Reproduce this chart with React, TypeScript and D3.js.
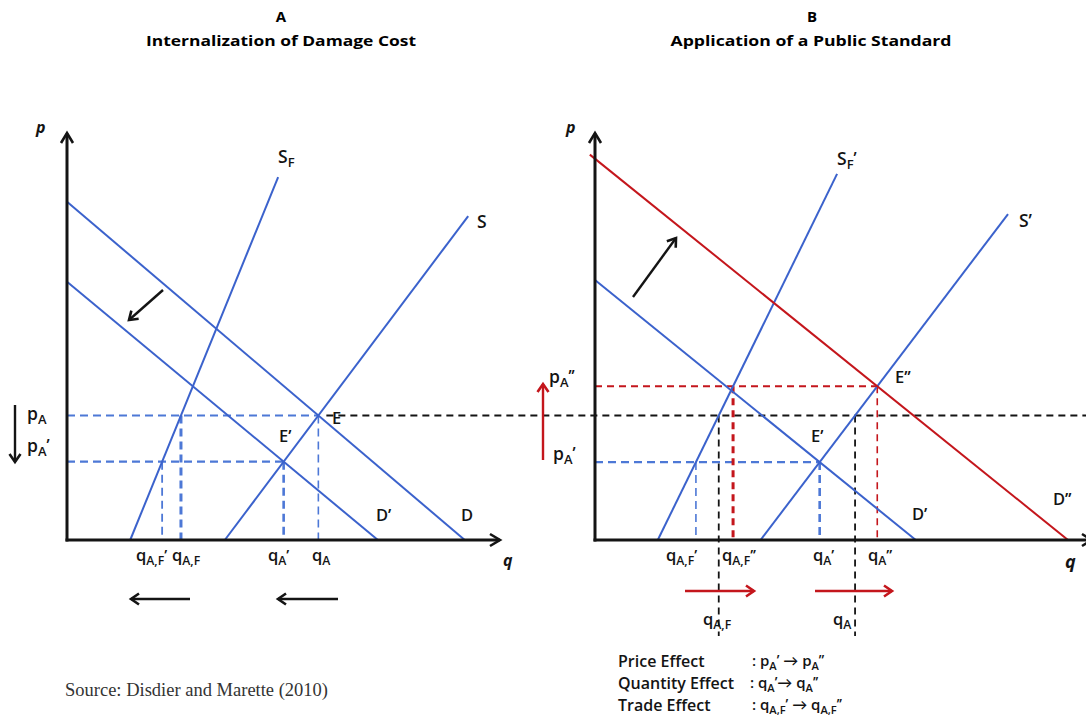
import React from "react";
import * as d3 from "d3";

// ---------- data (arbitrary quantity / price units, 0..100) ----------
type Seg = [number, number][];
// Panel A
const demandD: Seg = [[0, 82.5], [92.5, 0]];
const demandDPrime: Seg = [[0, 63], [72.3, 0]];
const supplyS: Seg = [[36.7, 0], [93.3, 79]];
const supplySF: Seg = [[14.7, 0], [49.1, 88.5]];
// Panel B
const demandDPrimeB: Seg = [[0, 63.4], [74.6, 0]];
const demandDDouble: Seg = [[-1.2, 94], [110, 0]];
const supplySPrime: Seg = [[38.5, 0], [96.05, 79.5]];
const supplySFPrime: Seg = [[14.6, 0], [56.3, 89.3]];

const titles = ["A", "Internalization of Damage Cost", "B", "Application of a Public Standard"];
const effectNames = ["Price Effect", "Quantity Effect", "Trade Effect"];
const sourceText = "Source: Disdier and Marette (2010)";

// ---------- helpers ----------
const slope = (s: Seg) => (s[1][1] - s[0][1]) / (s[1][0] - s[0][0]);
const qAt = (s: Seg, p: number) => s[0][0] + (p - s[0][1]) / slope(s);
const cross = (a: Seg, b: Seg): [number, number] => {
  const ma = slope(a), mb = slope(b);
  const ba = a[0][1] - ma * a[0][0], bb = b[0][1] - mb * b[0][0];
  const q = (bb - ba) / (ma - mb);
  return [q, ma * q + ba];
};

const xL = d3.scaleLinear().domain([0, 100]).range([67, 497]);
const xR = d3.scaleLinear().domain([0, 100]).range([595, 1025]);
const yS = d3.scaleLinear().domain([0, 100]).range([540, 130]);

const BLUE = "#3b62cc";
const BLUE_D = "#4d78d6";
const RED = "#c4161c";
const INK = "#141414";
const FONT = "'Open Sans', Lato, sans-serif";

const lineGen = (x: d3.ScaleLinear<number, number>) =>
  d3.line<[number, number]>().x((d) => x(d[0])).y((d) => yS(d[1]));

type Part = [string, "n" | "b" | "p"];
function Rich({ x, y, parts, size = 16, weight = 600, italic = false }: { x: number; y: number; parts: Part[]; size?: number; weight?: number; italic?: boolean }) {
  let cur = 0;
  const off = { n: 0, b: size * 0.24, p: -size * 0.06 };
  const fs = { n: size, b: size * 0.74, p: size * 0.92 };
  return (
    <text x={x} y={y} fontSize={size} fontFamily={FONT} fontWeight={weight} fill={INK} fontStyle={italic ? "italic" : "normal"}>
      {parts.map(([t, k], i) => {
        const dy = off[k] - cur;
        cur = off[k];
        return (
          <tspan key={i} dy={dy} fontSize={fs[k]}>
            {t}
          </tspan>
        );
      })}
    </text>
  );
}
const L = (m: string, sub?: string, sup?: string): Part[] => {
  const a: Part[] = [[m, "n"]];
  if (sub) a.push([sub, "b"]);
  if (sup) a.push([sup, "p"]);
  return a;
};

function AxisPanel({ x0, xEnd }: { x0: number; xEnd: number }) {
  const yb = yS(0), yt = 133;
  return (
    <g stroke={INK} strokeWidth={3} fill="none" strokeLinecap="square">
      <line x1={x0} y1={yb} x2={x0} y2={yt + 2} />
      <line x1={x0} y1={yb} x2={xEnd - 2} y2={yb} />
      <path d={`M${x0 - 6},${yt + 10} L${x0},${yt} L${x0 + 6},${yt + 10}`} strokeWidth={2.6} strokeLinecap="butt" />
      <path d={`M${xEnd - 10},${yb - 6} L${xEnd},${yb} L${xEnd - 10},${yb + 6}`} strokeWidth={2.6} strokeLinecap="butt" />
    </g>
  );
}

export default function App() {
  const lgL = lineGen(xL);
  const lgR = lineGen(xR);

  // Panel A equilibria
  const E = cross(demandD, supplyS);
  const E1 = cross(demandDPrime, supplyS);
  const qAF = qAt(supplySF, E[1]);
  const qAF1 = qAt(supplySF, E1[1]);

  // Panel B equilibria
  const pA = E[1];
  const qAB = qAt(supplySPrime, pA);
  const qAFB = qAt(supplySFPrime, pA);
  const EB1 = cross(demandDPrimeB, supplySPrime);
  const EB2 = cross(demandDDouble, supplySPrime);
  const qAF1B = qAt(supplySFPrime, EB1[1]);
  const qAF2B = qAt(supplySFPrime, EB2[1]);

  const dashB = { stroke: BLUE_D, strokeWidth: 2.2, strokeDasharray: "8 5", fill: "none" } as const;
  const dashK = { stroke: INK, strokeWidth: 1.8, strokeDasharray: "7 5", fill: "none" } as const;
  const dashR = { stroke: RED, strokeWidth: 1.8, strokeDasharray: "7 5", fill: "none" } as const;

  return (
    <svg width={1086} height={723} style={{ position: "absolute", left: 0, top: 0, background: "#fff" }}>
      <defs>
        <marker id="hk" markerUnits="userSpaceOnUse" markerWidth={16} markerHeight={16} refX={10} refY={7} orient="auto">
          <path d="M2,1.5 L10,7 L2,12.5" fill="none" stroke={INK} strokeWidth={2.6} />
        </marker>
        <marker id="hr" markerUnits="userSpaceOnUse" markerWidth={16} markerHeight={16} refX={10} refY={7} orient="auto">
          <path d="M2,1.5 L10,7 L2,12.5" fill="none" stroke={RED} strokeWidth={2.6} />
        </marker>
      </defs>

      {/* titles */}
      <g fontFamily="'Open Sans', sans-serif" fontWeight={700} fontSize={15} fill="#000" textAnchor="middle">
        <text x={281} y={22}>{titles[0]}</text>
        <text x={281} y={46} textLength={270} lengthAdjust="spacingAndGlyphs">{titles[1]}</text>
        <text x={812} y={22}>{titles[2]}</text>
        <text x={811} y={46} textLength={281} lengthAdjust="spacingAndGlyphs">{titles[3]}</text>
      </g>

      {/* ---------------- Panel A ---------------- */}
      <line x1={xL(0)} x2={xL(E[0])} y1={yS(E[1])} y2={yS(E[1])} {...dashB} />
      <line x1={xL(0)} x2={xL(E1[0])} y1={yS(E1[1])} y2={yS(E1[1])} {...dashB} />
      <line x1={xL(E[0])} x2={xL(E[0])} y1={yS(E[1])} y2={yS(0)} {...dashB} strokeWidth={1.6} />
      <line x1={xL(E1[0])} x2={xL(E1[0])} y1={yS(E1[1])} y2={yS(0)} {...dashB} strokeWidth={2.6} />
      <line x1={xL(qAF)} x2={xL(qAF)} y1={yS(E[1])} y2={yS(0)} {...dashB} strokeWidth={3} />
      <line x1={xL(qAF1)} x2={xL(qAF1)} y1={yS(E1[1])} y2={yS(0)} {...dashB} strokeWidth={1.8} />
      <line x1={xL(E[0]) + 8} x2={1086} y1={yS(pA)} y2={yS(pA)} {...dashK} />

      <g stroke={BLUE} strokeWidth={2} fill="none">
        <path d={lgL(demandD) || ""} />
        <path d={lgL(demandDPrime) || ""} />
        <path d={lgL(supplyS) || ""} />
        <path d={lgL(supplySF) || ""} />
      </g>
      <AxisPanel x0={xL(0)} xEnd={500} />

      <g stroke={INK} strokeWidth={2.4} fill="none">
        <line x1={163} y1={290} x2={129} y2={320} markerEnd="url(#hk)" />
        <line x1={190} y1={599} x2={131} y2={599} markerEnd="url(#hk)" />
        <line x1={338} y1={599} x2={278} y2={599} markerEnd="url(#hk)" />
        <line x1={15} y1={405} x2={15} y2={462} markerEnd="url(#hk)" />
      </g>

      <Rich x={36} y={133} parts={L("p")} size={16} weight={700} italic />
      <Rich x={503} y={566} parts={L("q")} size={16} weight={700} italic />
      <Rich x={278} y={163} parts={L("S", "F")} size={17.5} />
      <Rich x={477} y={228} parts={L("S")} size={17.5} />
      <Rich x={376} y={521} parts={L("D’")} size={16.5} />
      <Rich x={461} y={521} parts={L("D")} size={16.5} />
      <Rich x={332} y={424} parts={L("E")} size={16.5} />
      <Rich x={279} y={442} parts={L("E’")} size={16.5} />
      <Rich x={27} y={420} parts={L("p", "A")} size={17.5} />
      <Rich x={27} y={452} parts={L("p", "A", "’")} size={17.5} />
      <Rich x={136} y={561} parts={L("q", "A,F", "’")} size={16.5} />
      <Rich x={172} y={561} parts={L("q", "A,F")} size={16.5} />
      <Rich x={268} y={561} parts={L("q", "A", "’")} size={16.5} />
      <Rich x={312} y={561} parts={L("q", "A")} size={16.5} />

      {/* ---------------- Panel B ---------------- */}
      <line x1={xR(0)} x2={xR(EB1[0])} y1={yS(EB1[1])} y2={yS(EB1[1])} {...dashB} />
      <line x1={xR(0)} x2={xR(EB2[0])} y1={yS(EB2[1])} y2={yS(EB2[1])} {...dashR} />
      <line x1={xR(EB1[0])} x2={xR(EB1[0])} y1={yS(EB1[1])} y2={yS(0)} {...dashB} strokeWidth={2.6} />
      <line x1={xR(qAF1B)} x2={xR(qAF1B)} y1={yS(EB1[1])} y2={yS(0)} {...dashB} strokeWidth={1.6} />
      <line x1={xR(EB2[0])} x2={xR(EB2[0])} y1={yS(EB2[1])} y2={yS(0)} {...dashR} strokeWidth={1.6} />
      <line x1={xR(qAF2B)} x2={xR(qAF2B)} y1={yS(EB2[1])} y2={yS(0)} {...dashR} strokeWidth={3} />
      <line x1={xR(qAB)} x2={xR(qAB)} y1={yS(pA)} y2={636} {...dashK} />
      <line x1={xR(qAFB)} x2={xR(qAFB)} y1={yS(pA)} y2={636} {...dashK} />

      <g stroke={BLUE} strokeWidth={2} fill="none">
        <path d={lgR(demandDPrimeB) || ""} />
        <path d={lgR(supplySPrime) || ""} />
        <path d={lgR(supplySFPrime) || ""} />
      </g>
      <path d={lgR(demandDDouble) || ""} stroke={RED} strokeWidth={2} fill="none" />
      <AxisPanel x0={xR(0)} xEnd={1092} />

      <g strokeWidth={2.4} fill="none">
        <line x1={633} y1={297} x2={676} y2={238} stroke={INK} markerEnd="url(#hk)" />
        <line x1={685} y1={591} x2={754} y2={591} stroke={RED} markerEnd="url(#hr)" />
        <line x1={815} y1={591} x2={892} y2={591} stroke={RED} markerEnd="url(#hr)" />
        <line x1={543} y1={460} x2={543} y2={384} stroke={RED} markerEnd="url(#hr)" />
      </g>

      <Rich x={566} y={133} parts={L("p")} size={16} weight={700} italic />
      <Rich x={1065} y={568} parts={L("q")} size={18} weight={700} italic />
      <Rich x={837} y={165} parts={[["S", "n"], ["F", "b"], ["’", "p"]]} size={17.5} />
      <Rich x={1019} y={227} parts={L("S’")} size={17.5} />
      <Rich x={895} y={383} parts={L("E’’")} size={16.5} />
      <Rich x={811} y={442} parts={L("E’")} size={16.5} />
      <Rich x={912} y={520} parts={L("D’")} size={16.5} />
      <Rich x={1053} y={505} parts={L("D’’")} size={16.5} />
      <Rich x={549} y={383} parts={L("p", "A", "’’")} size={17.5} />
      <Rich x={553} y={460} parts={L("p", "A", "’")} size={17.5} />
      <Rich x={666} y={561} parts={L("q", "A,F", "’")} size={16.5} />
      <Rich x={722} y={561} parts={L("q", "A,F", "’’")} size={16.5} />
      <Rich x={813} y={561} parts={L("q", "A", "’")} size={16.5} />
      <Rich x={868} y={561} parts={L("q", "A", "’’")} size={16.5} />
      <Rich x={703} y={625} parts={L("q", "A,F")} size={16.5} />
      <Rich x={833} y={625} parts={L("q", "A")} size={16.5} />

      {/* effects text */}
      <g fontFamily={FONT} fontSize={16} fontWeight={600} fill={INK}>
        <text x={618} y={667}>{effectNames[0]}</text>
        <text x={618} y={689}>{effectNames[1]}</text>
        <text x={618} y={711}>{effectNames[2]}</text>
      </g>
      <Rich x={752} y={666} size={15} parts={[[": p", "n"], ["A", "b"], ["’", "p"], [" → p", "n"], ["A", "b"], ["’’", "p"]]} />
      <Rich x={750} y={688} size={15} parts={[[": q", "n"], ["A", "b"], ["’", "p"], ["→ q", "n"], ["A", "b"], ["’’", "p"]]} />
      <Rich x={752} y={710} size={15} parts={[[": q", "n"], ["A,F", "b"], ["’", "p"], [" → q", "n"], ["A,F", "b"], ["’’", "p"]]} />

      <text x={65} y={696} fontFamily="'Liberation Serif', 'Times New Roman', serif" fontSize={18.5} fill="#333">{sourceText}</text>
    </svg>
  );
}
